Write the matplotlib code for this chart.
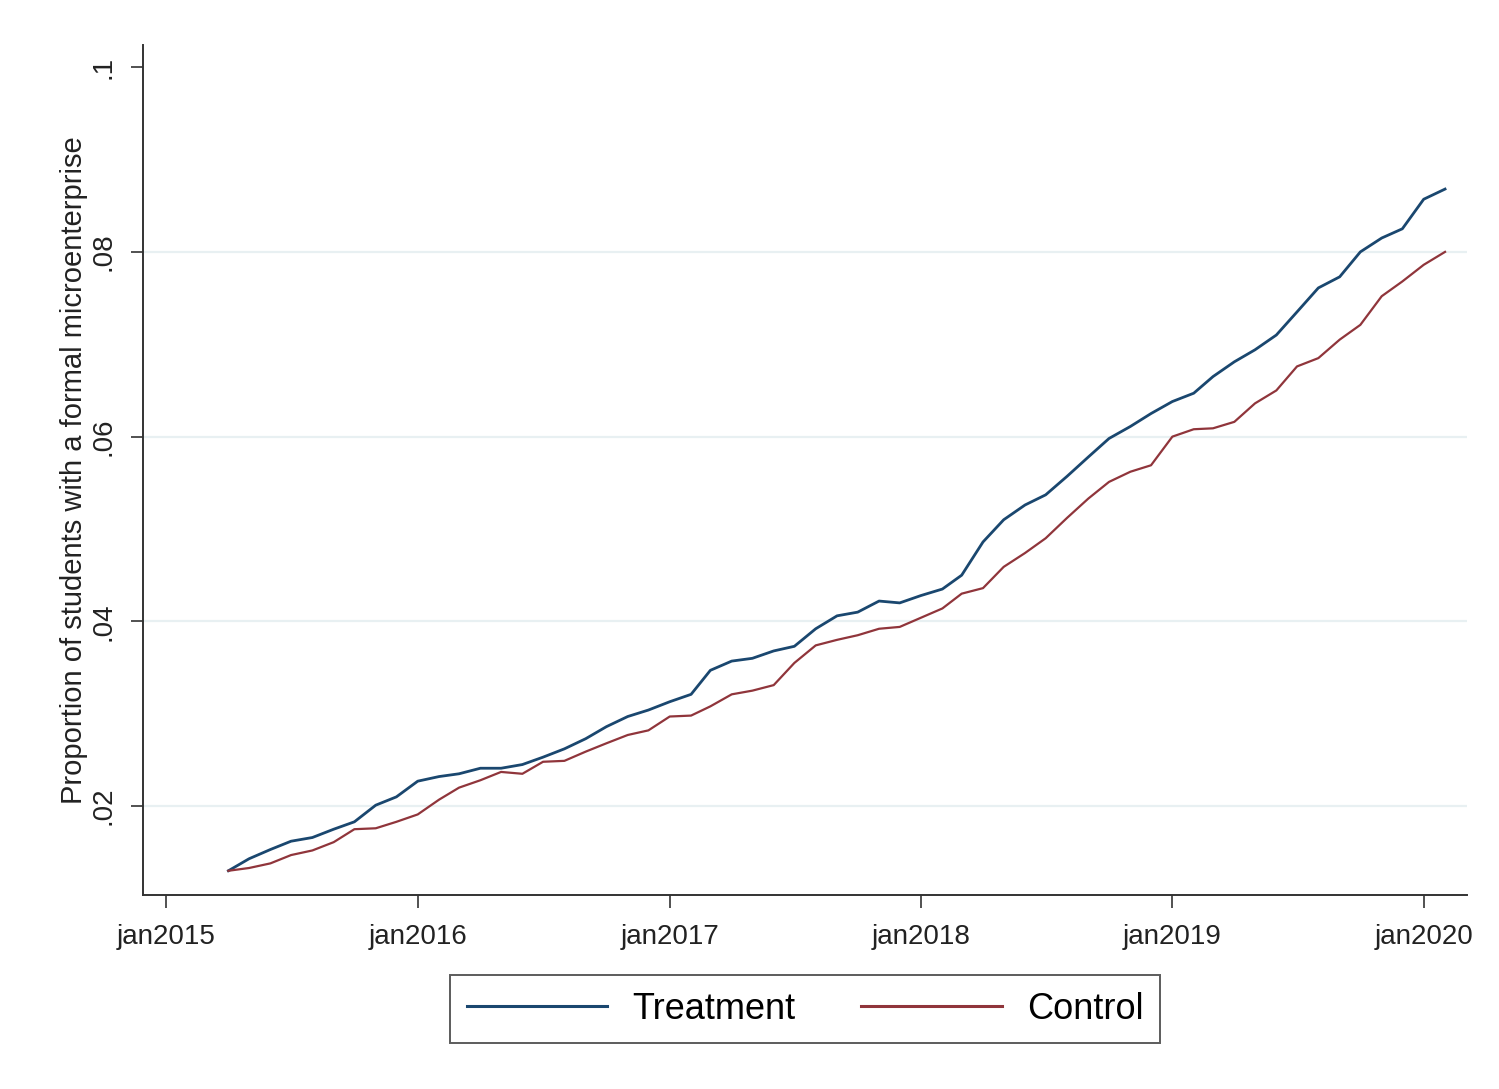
import matplotlib
matplotlib.use('Agg')
import matplotlib.pyplot as plt
import numpy as np
import pandas as pd

plt.rcParams['font.family'] = ['Liberation Sans', 'DejaVu Sans']

# monthly series, apr2015 .. feb2020
months = pd.date_range('2015-04-01', '2020-02-01', freq='MS')

treatment = [0.0130, 0.0143, 0.0153, 0.0162, 0.0166, 0.0175, 0.0183, 0.0201, 0.0210,
             0.0227, 0.0232, 0.0235, 0.0241, 0.0241, 0.0245, 0.0253, 0.0262, 0.0273, 0.0286, 0.0297, 0.0304,
             0.0313, 0.0321, 0.0347, 0.0357, 0.0360, 0.0368, 0.0373, 0.0392, 0.0406, 0.0410, 0.0422, 0.0420,
             0.0428, 0.0435, 0.0450, 0.0486, 0.0510, 0.0526, 0.0537, 0.0557, 0.0578, 0.0598, 0.0611, 0.0625,
             0.0638, 0.0647, 0.0665, 0.0681, 0.0694, 0.0710, 0.0735, 0.0761, 0.0773, 0.0800, 0.0815, 0.0825,
             0.0857, 0.0868]

control = [0.0130, 0.0133, 0.0138, 0.0147, 0.0152, 0.0161, 0.0175, 0.0176, 0.0183,
           0.0191, 0.0207, 0.0220, 0.0228, 0.0237, 0.0235, 0.0248, 0.0249, 0.0259, 0.0268, 0.0277, 0.0282,
           0.0297, 0.0298, 0.0308, 0.0321, 0.0325, 0.0331, 0.0355, 0.0374, 0.0380, 0.0385, 0.0392, 0.0394,
           0.0404, 0.0414, 0.0430, 0.0436, 0.0459, 0.0474, 0.0490, 0.0512, 0.0533, 0.0551, 0.0562, 0.0569,
           0.0600, 0.0608, 0.0609, 0.0616, 0.0636, 0.0650, 0.0676, 0.0685, 0.0705, 0.0721, 0.0752, 0.0768,
           0.0786, 0.0800]

xtick_dates = pd.to_datetime(['2015-01-01', '2016-01-01', '2017-01-01', '2018-01-01', '2019-01-01', '2020-01-01'])
xtick_labels = ['jan2015', 'jan2016', 'jan2017', 'jan2018', 'jan2019', 'jan2020']
ytick_vals = [0.02, 0.04, 0.06, 0.08, 0.1]
ytick_labels = ['.02', '.04', '.06', '.08', '.1']

f = plt.figure(figsize=(14.99, 10.89), dpi=100)
ax = f.add_axes([0.0954, 0.178, 0.9787 - 0.0954, 0.9587 - 0.178])

# light grid at the inner ticks only
for y in ytick_vals[:-1]:
    ax.axhline(y, color='#e8f0f2', lw=1.6, zorder=0)

l1, = ax.plot(months, treatment, color='#1a476f', lw=2.0, label='Treatment')
l2, = ax.plot(months, control, color='#90353b', lw=1.6, label='Control')

ax.set_xlim(pd.Timestamp('2014-11-28'), pd.Timestamp('2020-03-04'))
ax.set_ylim(0.01036, 0.1024)

ax.set_xticks(xtick_dates)
ax.set_xticklabels(xtick_labels, fontsize=20, color='#222222')
ax.set_yticks(ytick_vals)
ax.set_yticklabels(ytick_labels, fontsize=20, color='#222222', rotation=90, va='center')

ax.tick_params(axis='both', direction='out', length=9, width=1.2, color='#333333')
ax.tick_params(axis='x', pad=12)
ax.tick_params(axis='y', pad=10)

for s in ['top', 'right']:
    ax.spines[s].set_visible(False)
for s in ['left', 'bottom']:
    ax.spines[s].set_color('#333333')
    ax.spines[s].set_linewidth(1.4)

ax.set_ylabel('Proportion of students with a formal microenterprise', fontsize=21, color='#222222', labelpad=2)

leg = ax.legend(handles=[l1, l2], loc='upper center', bbox_to_anchor=(0.5, -0.073), ncol=2,
                fontsize=26, frameon=True, fancybox=False, handlelength=3.9, handletextpad=0.7,
                columnspacing=1.8, borderpad=0.45)
leg.get_frame().set_edgecolor('#333333')
leg.get_frame().set_linewidth(1.4)
for h in leg.get_lines():
    h.set_linewidth(2.2)

f.savefig('out.png', dpi=100)
